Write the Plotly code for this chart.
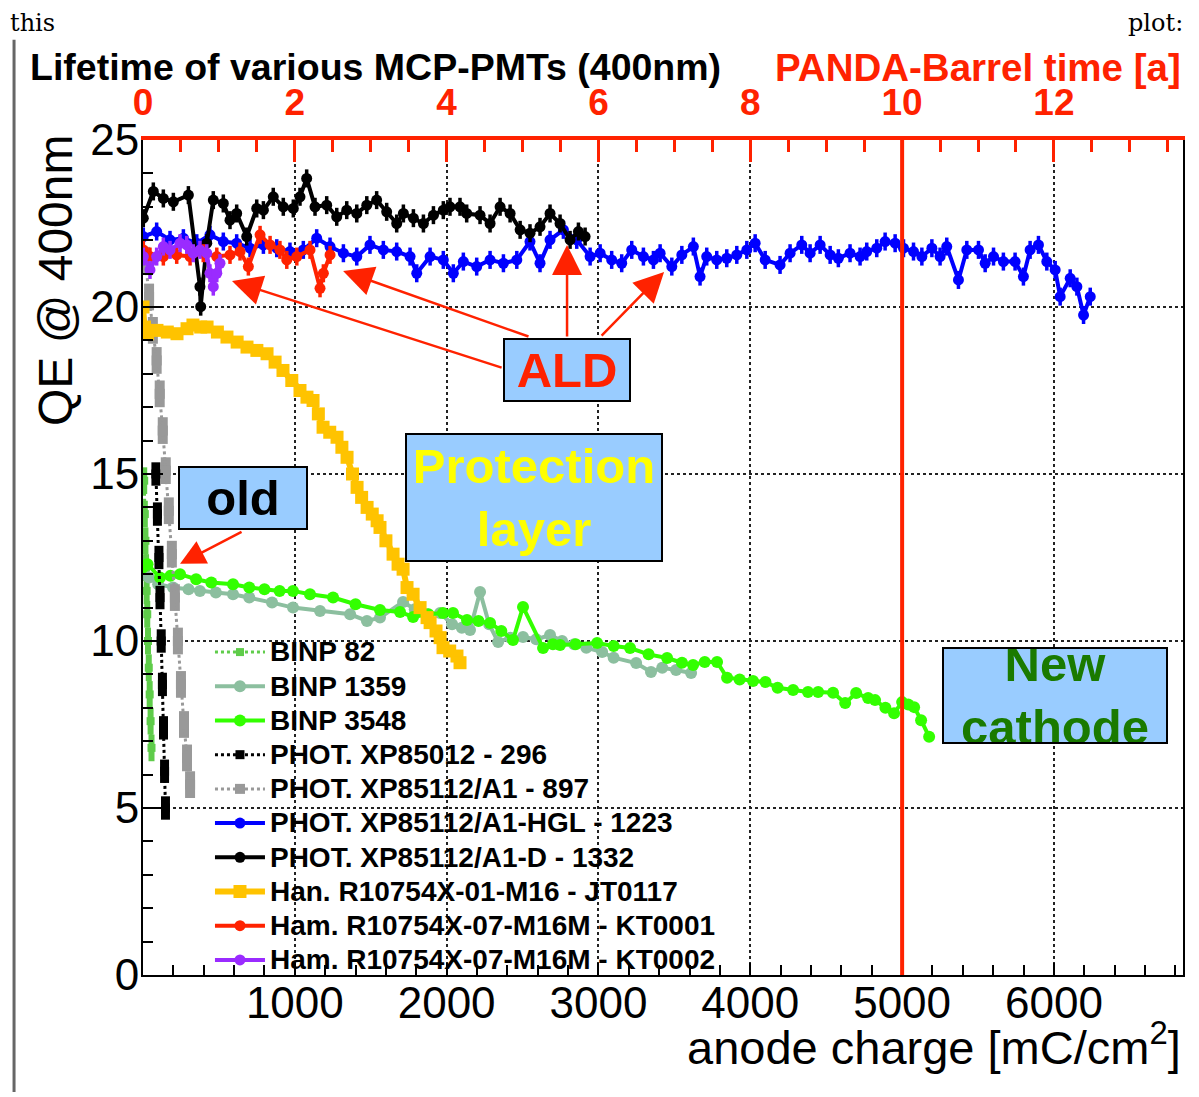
import plotly.graph_objects as go

# ---------------- data ----------------
CHARGE_PER_YEAR = 500.0          # mC/cm^2 per PANDA-Barrel year
X_MAX = 6850.0
Y_MAX = 25.0
PANDA_10_YEARS = 5000.0

X_TICKS = [1000, 2000, 3000, 4000, 5000, 6000]
Y_TICKS = [0, 5, 10, 15, 20, 25]
TOP_TICKS = [0, 2, 4, 6, 8, 10, 12]

NAMES = ["BINP 82", "BINP 1359", "BINP 3548", "PHOT. XP85012 - 296",
         "PHOT. XP85112/A1 - 897", "PHOT. XP85112/A1-HGL - 1223",
         "PHOT. XP85112/A1-D - 1332", "Han. R10754X-01-M16 - JT0117",
         "Ham. R10754X-07-M16M - KT0001", "Ham. R10754X-07-M16M - KT0002"]

BINP82_X = [8, 12, 16, 20, 24, 28, 33, 38, 44, 50, 56]
BINP82_Y = [14.8, 13.8, 13.0, 12.2, 11.5, 10.8, 10.0, 9.2, 8.4, 7.6, 6.8]

BINP1359_X = [0, 40, 100, 198, 300, 375, 480, 593, 700, 850, 988, 1166, 1364, 1475, 1561,
              1713, 1790, 1870, 1957, 2036, 2100, 2154, 2220, 2280, 2339, 2420, 2503, 2590,
              2681, 2760, 2840, 2920, 3024, 3100, 3248, 3346, 3420, 3511, 3610]
BINP1359_Y = [12.0, 11.9, 11.7, 11.6, 11.55, 11.5, 11.45, 11.4, 11.3, 11.15, 11.0, 10.9, 10.8,
              10.6, 10.7, 11.17, 10.95, 10.8, 10.84, 10.5, 10.4, 10.33, 11.47, 10.5, 9.97, 10.1,
              10.12, 10.05, 10.18, 10.0, 9.9, 9.8, 9.67, 9.5, 9.34, 9.07, 9.2, 9.13, 9.04]

BINP3548_X = [0, 30, 112, 180, 244, 350, 450, 593, 700, 800, 900, 988, 1100, 1252, 1400, 1561,
              1693, 1779, 1880, 1976, 2042, 2134, 2210, 2286, 2360, 2437, 2503, 2635, 2700, 2747,
              2850, 2991, 3100, 3208, 3330, 3452, 3550, 3623, 3700, 3781, 3847, 3930, 4018, 4100,
              4180, 4282, 4380, 4447, 4545, 4625, 4697, 4776, 4822, 4890, 4947, 5000, 5040, 5079,
              5125, 5178]
BINP3548_Y = [12.2, 12.3, 11.9, 11.95, 12.0, 11.85, 11.75, 11.7, 11.6, 11.55, 11.5, 11.5, 11.4,
              11.3, 11.1, 10.93, 10.87, 10.72, 10.8, 10.84, 10.84, 10.63, 10.6, 10.54, 10.3, 10.03,
              11.02, 9.79, 9.9, 9.88, 9.9, 9.94, 9.85, 9.79, 9.6, 9.49, 9.35, 9.28, 9.37, 9.37,
              8.9, 8.85, 8.8, 8.77, 8.6, 8.53, 8.47, 8.47, 8.45, 8.14, 8.44, 8.29, 8.23, 8.0, 7.84,
              8.17, 8.1, 8.02, 7.63, 7.13]

P296_X = [85, 95, 105, 112, 120, 128, 135, 142, 148]
P296_Y = [15.0, 13.8, 12.5, 11.3, 10.0, 8.7, 7.4, 6.1, 5.0]

P897_X = [15, 40, 65, 90, 110, 130, 150, 170, 190, 210, 230, 250, 270, 290, 310]
P897_Y = [21.4, 20.3, 19.3, 18.4, 17.4, 16.3, 15.1, 13.9, 12.6, 11.3, 10.0, 8.7, 7.5, 6.5, 5.7]

HGL_X = [2, 90, 178, 266, 354, 441, 529, 617, 705, 793, 881, 968, 1056, 1144, 1232, 1320, 1408,
         1495, 1583, 1671, 1759, 1803, 1891, 1978, 2044, 2110, 2198, 2286, 2374, 2462, 2549,
         2615, 2681, 2769, 2857, 2945, 3011, 3087, 3153, 3219, 3296, 3362, 3406, 3483, 3549,
         3625, 3669, 3713, 3779, 3845, 3911, 3977, 4032, 4098, 4196, 4262, 4339, 4394, 4460,
         4526, 4580, 4657, 4723, 4767, 4833, 4888, 4954, 5009, 5075, 5130, 5196, 5250, 5294,
         5371, 5426, 5503, 5547, 5602, 5667, 5744, 5799, 5843, 5898, 5953, 6008, 6041, 6107,
         6151, 6195, 6239]
HGL_Y = [22.11, 22.26, 22.01, 22.06, 21.91, 22.16, 21.96, 21.91, 21.76, 21.86, 21.76, 21.66,
         21.71, 22.06, 21.81, 21.61, 21.51, 21.86, 21.71, 21.66, 21.51, 21.01, 21.51, 21.41,
         21.01, 21.36, 21.21, 21.41, 21.31, 21.41, 21.96, 21.31, 22.01, 22.31, 22.01, 21.51,
         21.61, 21.41, 21.31, 21.71, 21.51, 21.41, 21.61, 21.21, 21.56, 21.81, 20.91, 21.51,
         21.41, 21.46, 21.56, 21.71, 21.91, 21.41, 21.26, 21.61, 21.86, 21.61, 21.86, 21.56,
         21.46, 21.61, 21.51, 21.66, 21.76, 21.96, 21.91, 21.76, 21.66, 21.51, 21.76, 21.51,
         21.81, 20.81, 21.71, 21.71, 21.31, 21.51, 21.36, 21.36, 20.91, 21.71, 21.86, 21.36,
         21.11, 20.31, 20.86, 20.61, 19.76, 20.31]

D_X = [2, 68, 134, 200, 299, 375, 380, 420, 463, 529, 573, 617, 683, 749, 793, 858, 924, 990,
       1034, 1078, 1133, 1210, 1276, 1342, 1408, 1474, 1539, 1605, 1671, 1715, 1781, 1847, 1913,
       1978, 2022, 2088, 2132, 2220, 2286, 2352, 2418, 2484, 2549, 2615, 2681, 2747, 2813, 2868,
       2912]
D_Y = [22.66, 23.46, 23.25, 23.15, 23.35, 20.61, 20.01, 21.91, 23.20, 23.10, 22.60, 22.80, 22.11,
       22.95, 22.90, 23.30, 23.00, 22.95, 23.30, 23.85, 23.00, 23.05, 22.70, 22.90, 22.80, 23.05,
       23.20, 22.85, 22.50, 22.80, 22.66, 22.50, 22.75, 22.90, 23.00, 23.00, 22.80, 22.75, 22.50,
       23.00, 22.80, 22.31, 22.21, 22.40, 22.80, 22.50, 22.01, 22.26, 22.11]

JT_X = [0, 10, 30, 92, 160, 224, 290, 329, 380, 422, 490, 553, 620, 685, 750, 817, 870, 922,
        980, 1034, 1080, 1120, 1155, 1186, 1230, 1278, 1310, 1344, 1380, 1410, 1440, 1476, 1510,
        1542, 1561, 1600, 1647, 1680, 1713, 1739, 1779, 1825, 1871, 1891, 1930, 1957, 1976, 2020,
        2068, 2088]
JT_Y = [20.0, 19.4, 19.2, 19.3, 19.25, 19.2, 19.35, 19.46, 19.4, 19.4, 19.25, 19.1, 18.95, 18.8,
        18.7, 18.6, 18.35, 18.1, 17.8, 17.5, 17.3, 17.2, 16.8, 16.4, 16.25, 16.1, 15.8, 15.5,
        15.0, 14.6, 14.3, 14.0, 13.8, 13.6, 13.4, 13.0, 12.6, 12.3, 12.15, 11.6, 11.4, 11.0,
        10.7, 10.55, 10.3, 10.1, 9.8, 9.7, 9.55, 9.35]

KT1_X = [2, 46, 134, 222, 310, 397, 486, 573, 639, 694, 771, 837, 902, 947, 1013, 1100, 1166,
         1188, 1232]
KT1_Y = [21.71, 21.51, 21.51, 21.56, 21.51, 21.61, 21.51, 21.56, 21.66, 21.21, 22.16, 21.86,
         21.71, 21.41, 21.51, 21.71, 20.56, 21.01, 21.56]

KT2_X = [2, 46, 90, 134, 178, 244, 288, 331, 375, 420, 441, 463, 486, 507]
KT2_Y = [21.51, 21.11, 21.51, 21.81, 21.71, 21.91, 21.86, 21.61, 21.71, 21.61, 21.01, 20.61,
         21.01, 21.31]

# ---------------- styles ----------------
RED = "#ff2200"
FONT = "Liberation Sans, Arial, Helvetica, sans-serif"
BOX_BG = "#99ccff"

fig = go.Figure()


def legend_name(n):
    return "<span style='font-size:28px'><b>%s</b></span>" % n


def add(x, y, name, color, symbol="circle", msize=9, lw=3, dash="solid", err=None,
        ethick=2.5):
    ey = None
    if err is not None:
        ey = dict(type="constant", value=err, thickness=ethick, width=0, color=color)
    fig.add_trace(go.Scatter(
        x=x, y=y, name=legend_name(name), mode="lines+markers",
        line=dict(color=color, width=lw, dash=dash),
        marker=dict(color=color, size=msize, symbol=symbol, line=dict(width=0)),
        error_y=ey, hoverinfo="x+y"))


add(BINP82_X, BINP82_Y, NAMES[0], "#5fcc4a", "square", 8, 3, "dot", err=0.4, ethick=6)
add(BINP1359_X, BINP1359_Y, NAMES[1], "#8cbf9f", "circle", 12, 4)
add(BINP3548_X, BINP3548_Y, NAMES[2], "#33ff00", "circle", 12, 4)
add(P296_X, P296_Y, NAMES[3], "#000000", "square", 9, 3, "dot", err=0.35, ethick=9)
add(P897_X, P897_Y, NAMES[4], "#999999", "square", 10, 3, "dot", err=0.4, ethick=10)
add(HGL_X, HGL_Y, NAMES[5], "#0000ff", "circle", 11, 4, err=0.27, ethick=3.5)
add(D_X, D_Y, NAMES[6], "#000000", "circle", 11, 4, err=0.27, ethick=3.5)
add(JT_X, JT_Y, NAMES[7], "#ffc300", "square", 13, 6)
add(KT1_X, KT1_Y, NAMES[8], RED, "circle", 11, 4, err=0.27, ethick=3.5)
add(KT2_X, KT2_Y, NAMES[9], "#9a2bff", "circle", 11, 4, err=0.27, ethick=3.5)

# invisible trace to bind the top (PANDA-Barrel time) axis
fig.add_trace(go.Scatter(x=[0], y=[None], xaxis="x2", showlegend=False, hoverinfo="skip"))

# vertical red line at 10 years of PANDA-Barrel
fig.add_shape(type="line", x0=PANDA_10_YEARS, x1=PANDA_10_YEARS, y0=0, y1=Y_MAX,
              xref="x", yref="y", line=dict(color=RED, width=4), layer="above")

# left border line of the screenshot
fig.add_shape(type="line", x0=-0.124, x1=-0.124, y0=-0.140, y1=1.12, xref="paper",
              yref="paper", line=dict(color="#666666", width=3))

anns = []


def box(x, y, text, color, w, h):
    anns.append(dict(x=x, y=y, xref="x", yref="y", text="<b>%s</b>" % text, showarrow=False,
                     font=dict(family=FONT, size=49, color=color), bgcolor=BOX_BG,
                     bordercolor="#000000", borderwidth=2, borderpad=0, width=w, height=h,
                     align="center", valign="middle"))


box(2793, 18.11, "ALD", RED, 124, 60)
box(2576, 14.3, "Protection<br>layer", "#ffff00", 254, 125)
box(659, 14.28, "old", "#000000", 126, 60)
box(6008, 8.37, "New<br>cathode", "#1a7a00", 222, 93)


def arrow(x0, y0, x1, y1, size=2.4):
    anns.append(dict(x=x1, y=y1, ax=x0, ay=y0, xref="x", yref="y", axref="x", ayref="y",
                     text="", showarrow=True, arrowhead=2, arrowsize=size, arrowwidth=2.5,
                     arrowcolor=RED, standoff=0, startstandoff=0))


arrow(2372, 18.17, 586, 20.78)
arrow(2549, 19.10, 1318, 21.08)
arrow(2793, 19.07, 2793, 21.86)
arrow(3011, 19.10, 3432, 21.05)
arrow(659, 13.29, 244, 12.31, size=2.0)

anns += [
    dict(x=-0.1106, y=1.0874, xref="paper", yref="paper", xanchor="left", yanchor="middle",
         text="<b>Lifetime of various MCP-PMTs (400nm)</b>", showarrow=False,
         font=dict(family=FONT, size=37.5, color="#000000")),
    dict(x=1.0, y=1.0874, xref="paper", yref="paper", xanchor="right", yanchor="middle",
         text="<b>PANDA-Barrel time [a]</b>", showarrow=False,
         font=dict(family=FONT, size=38.5, color=RED)),
    dict(x=-0.0846, y=0.8323, xref="paper", yref="paper", xanchor="center", yanchor="middle",
         text="QE @ 400nm", textangle=-90, showarrow=False,
         font=dict(family=FONT, size=48, color="#000000")),
    dict(x=1.0, y=-0.0830, xref="paper", yref="paper", xanchor="right", yanchor="middle",
         text="anode charge [mC/cm<sup>2</sup>]", showarrow=False,
         font=dict(family=FONT, size=47, color="#000000")),
    dict(x=-0.1298, y=1.1400, xref="paper", yref="paper", xanchor="left", yanchor="middle",
         text="this", showarrow=False,
         font=dict(family="DejaVu Serif, serif", size=24, color="#000000")),
    dict(x=1.0019, y=1.1400, xref="paper", yref="paper", xanchor="right", yanchor="middle",
         text="plot:", showarrow=False,
         font=dict(family="DejaVu Serif, serif", size=24, color="#000000")),
]

fig.update_layout(
    width=1191, height=1089, autosize=False,
    margin=dict(l=135, r=16, t=132, b=122, pad=0),
    paper_bgcolor="white", plot_bgcolor="white",
    font=dict(family=FONT, color="#000000"),
    annotations=anns,
    showlegend=True,
    legend=dict(x=0.0644, y=0.4132, xanchor="left", yanchor="top", bgcolor="rgba(0,0,0,0)",
                borderwidth=0, itemwidth=50, font=dict(family=FONT, size=24, color="#000000"),
                tracegroupgap=0, itemclick=False, itemdoubleclick=False),
    xaxis=dict(range=[0, X_MAX], tickvals=X_TICKS, ticktext=[str(v) for v in X_TICKS],
               showline=True, linecolor="#000000", linewidth=2, mirror=False,
               ticks="inside", ticklen=12, tickwidth=1.5, tickcolor="#000000",
               minor=dict(dtick=200, tick0=0, ticks="inside", ticklen=10, tickwidth=1.5,
                          tickcolor="#000000", showgrid=False),
               showgrid=True, gridcolor="#222222", griddash="dot", gridwidth=1.5,
               zeroline=False, tickfont=dict(family=FONT, size=44, color="#000000"),
               ticklabelstandoff=-12),
    xaxis2=dict(overlaying="x", side="top", anchor="y", range=[0, X_MAX / CHARGE_PER_YEAR],
                tickvals=TOP_TICKS, ticktext=[str(v) for v in TOP_TICKS],
                showline=True, linecolor=RED, linewidth=4,
                ticks="inside", ticklen=22, tickwidth=3, tickcolor=RED,
                minor=dict(dtick=0.5, tick0=0, ticks="inside", ticklen=12, tickwidth=3,
                           tickcolor=RED, showgrid=False),
                showgrid=False, zeroline=False,
                tickfont=dict(family=FONT, size=37, color=RED, weight="bold"),
                ticklabelstandoff=6),
    yaxis=dict(range=[0, Y_MAX], tickvals=Y_TICKS, ticktext=[str(v) for v in Y_TICKS],
               showline=True, linecolor="#000000", linewidth=2, mirror=True,
               ticks="inside", ticklen=20, tickwidth=1.5, tickcolor="#000000",
               minor=dict(dtick=1, tick0=0, ticks="inside", ticklen=10, tickwidth=1.5,
                          tickcolor="#000000", showgrid=False),
               showgrid=True, gridcolor="#222222", griddash="dot", gridwidth=1.5,
               zeroline=False, tickfont=dict(family=FONT, size=44, color="#000000"),
               ticklabelstandoff=-7),
)

fig.write_html("out.html")
